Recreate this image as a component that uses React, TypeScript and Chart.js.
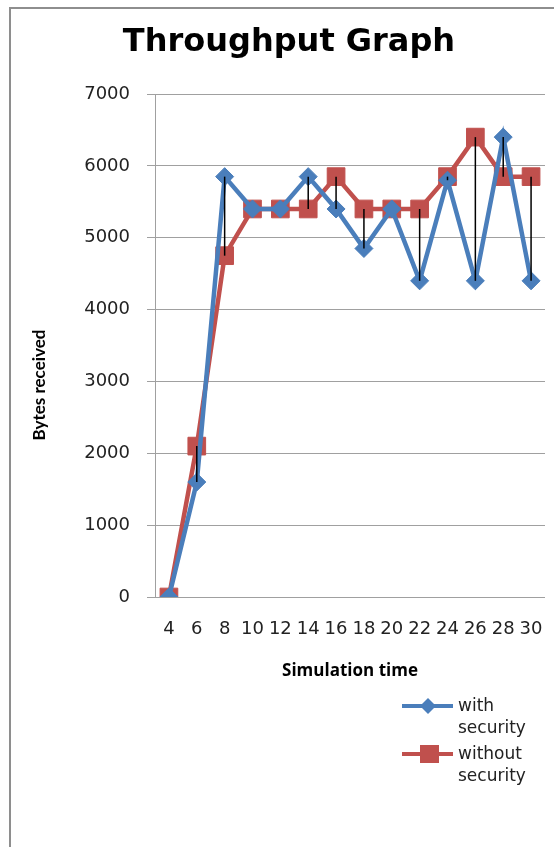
import React, { useEffect, useRef } from "react";
import { Chart, registerables } from "chart.js";

Chart.register(...registerables);

const categories = ["4", "6", "8", "10", "12", "14", "16", "18", "20", "22", "24", "26", "28", "30"];
const withSecurity = [0, 1600, 5850, 5400, 5400, 5850, 5400, 4850, 5400, 4400, 5800, 4400, 6400, 4400];
const withoutSecurity = [0, 2100, 4750, 5400, 5400, 5400, 5850, 5400, 5400, 5400, 5850, 6400, 5850, 5850];
const yTicks = [0, 1000, 2000, 3000, 4000, 5000, 6000, 7000];

const chartTitle = "Throughput Graph";
const xTitle = "Simulation time";
const yTitle = "Bytes received";
const seriesLabels = ["with security", "without security"];

const BLUE = "#4a7ebb";
const RED = "#c0504d";

const CANVAS_W = 570;
const CANVAS_H = 847;

const framePlugin = {
  id: "frame",
  beforeDraw(chart: any) {
    const ctx = chart.ctx;
    ctx.save();
    ctx.fillStyle = "#ffffff";
    ctx.fillRect(0, 0, chart.width, chart.height);
    ctx.strokeStyle = "#8e8e8e";
    ctx.lineWidth = 2;
    ctx.beginPath();
    ctx.moveTo(10, chart.height);
    ctx.lineTo(10, 8);
    ctx.lineTo(chart.width, 8);
    ctx.stroke();
    ctx.restore();
  },
};

const dropLinesPlugin = {
  id: "dropLines",
  afterDatasetsDraw(chart: any) {
    const ctx = chart.ctx;
    const m0 = chart.getDatasetMeta(0);
    const m1 = chart.getDatasetMeta(1);
    ctx.save();
    ctx.strokeStyle = "#000000";
    ctx.lineWidth = 1.5;
    for (let i = 0; i < m0.data.length; i++) {
      const a = m0.data[i];
      const b = m1.data[i];
      if (!a || !b || Math.abs(a.y - b.y) < 0.5) continue;
      ctx.beginPath();
      ctx.moveTo(a.x, a.y);
      ctx.lineTo(b.x, b.y);
      ctx.stroke();
    }
    ctx.restore();
  },
};

const extrasPlugin = {
  id: "extras",
  afterDraw(chart: any) {
    const ctx = chart.ctx;
    // chart title
    ctx.save();
    ctx.fillStyle = "#000000";
    ctx.font = "bold 32px 'DejaVu Sans'";
    ctx.textAlign = "center";
    ctx.textBaseline = "middle";
    ctx.fillText(chartTitle, 289, 43);
    ctx.restore();

    // y axis title
    ctx.save();
    ctx.translate(40, 385);
    ctx.rotate(-Math.PI / 2);
    ctx.fillStyle = "#000000";
    ctx.font = "bold 17px Lato";
    ctx.textAlign = "center";
    ctx.textBaseline = "middle";
    ctx.fillText(yTitle, 0, 0);
    ctx.restore();

    // legend
    const items = [
      { y: 706, ds: chart.data.datasets[0] },
      { y: 754, ds: chart.data.datasets[1] },
    ];
    ctx.save();
    items.forEach((it) => {
      const ds: any = it.ds;
      ctx.strokeStyle = ds.borderColor;
      ctx.lineWidth = 4;
      ctx.beginPath();
      ctx.moveTo(402, it.y);
      ctx.lineTo(453, it.y);
      ctx.stroke();
      ctx.fillStyle = ds.backgroundColor;
      ctx.beginPath();
      if (ds.pointStyle === "rectRot") {
        ctx.moveTo(428, it.y - 8);
        ctx.lineTo(436, it.y);
        ctx.lineTo(428, it.y + 8);
        ctx.lineTo(420, it.y);
        ctx.closePath();
      } else {
        ctx.rect(420, it.y - 9, 19, 18);
      }
      ctx.fill();
      const label: string = ds.label;
      const sp = label.indexOf(" ");
      const lines = sp > 0 ? [label.slice(0, sp), label.slice(sp + 1)] : [label];
      ctx.fillStyle = "#222222";
      ctx.font = "17px 'DejaVu Sans'";
      ctx.textAlign = "left";
      ctx.textBaseline = "middle";
      lines.forEach((ln, k) => ctx.fillText(ln, 458, it.y + 1 + k * 22));
    });
    ctx.restore();
  },
};

export default function App() {
  const ref = useRef<HTMLCanvasElement | null>(null);
  useEffect(() => {
    document.body.style.margin = "0";
    if (!ref.current) return;
    const chart = new Chart(ref.current, {
      type: "line",
      data: {
        labels: categories,
        datasets: [
          {
            label: seriesLabels[0],
            data: withSecurity,
            borderColor: BLUE,
            backgroundColor: BLUE,
            borderWidth: 4.5,
            pointStyle: "rectRot",
            pointRadius: 9,
            pointBorderWidth: 1,
            pointBorderColor: BLUE,
            pointBackgroundColor: BLUE,
            tension: 0,
          },
          {
            label: seriesLabels[1],
            data: withoutSecurity,
            borderColor: RED,
            backgroundColor: RED,
            borderWidth: 4.5,
            pointStyle: "rect",
            pointRadius: 12.5,
            pointBorderWidth: 1,
            pointBorderColor: RED,
            pointBackgroundColor: RED,
            tension: 0,
          },
        ],
      },
      options: {
        responsive: false,
        animation: false,
        devicePixelRatio: 1,
        layout: { padding: { top: 94, left: 0, right: CANVAS_W - 545, bottom: 166 } },
        plugins: {
          legend: { display: false },
          tooltip: { enabled: false },
          title: { display: false },
        },
        scales: {
          x: {
            offset: true,
            afterFit(scale: any) {
              scale.height = 84;
            },
            grid: { display: false, drawTicks: false, offset: true },
            border: { display: false },
            ticks: {
              color: "#222222",
              font: { family: "'DejaVu Sans'", size: 18, lineHeight: 1.2 },
              padding: 22,
              autoSkip: false,
              maxRotation: 0,
              minRotation: 0,
            },
            title: {
              display: true,
              text: xTitle,
              color: "#000000",
              font: { family: "'Open Sans'", size: 17, weight: "bold", lineHeight: 1.2 },
              padding: { top: 20, bottom: 0 },
            },
          },
          y: {
            min: 0,
            max: 7000,
            afterFit(scale: any) {
              scale.width = 155;
            },
            afterBuildTicks(scale: any) {
              scale.ticks = yTicks.map((v) => ({ value: v }));
            },
            grid: { color: "#a0a0a0", lineWidth: 1, tickLength: 8, drawTicks: true },
            border: { display: true, color: "#a0a0a0", width: 1 },
            ticks: {
              color: "#222222",
              font: { family: "'DejaVu Sans'", size: 18, lineHeight: 1.2 },
              padding: 17,
              callback: (v: any) => String(v),
            },
          },
        },
      },
      plugins: [framePlugin, dropLinesPlugin, extrasPlugin],
    });
    return () => chart.destroy();
  }, []);
  return (
    <div style={{ width: 554, height: 847, overflow: "hidden" }}>
      <canvas
        ref={ref}
        width={CANVAS_W}
        height={CANVAS_H}
        style={{ display: "block", width: CANVAS_W, height: CANVAS_H }}
      />
    </div>
  );
}
